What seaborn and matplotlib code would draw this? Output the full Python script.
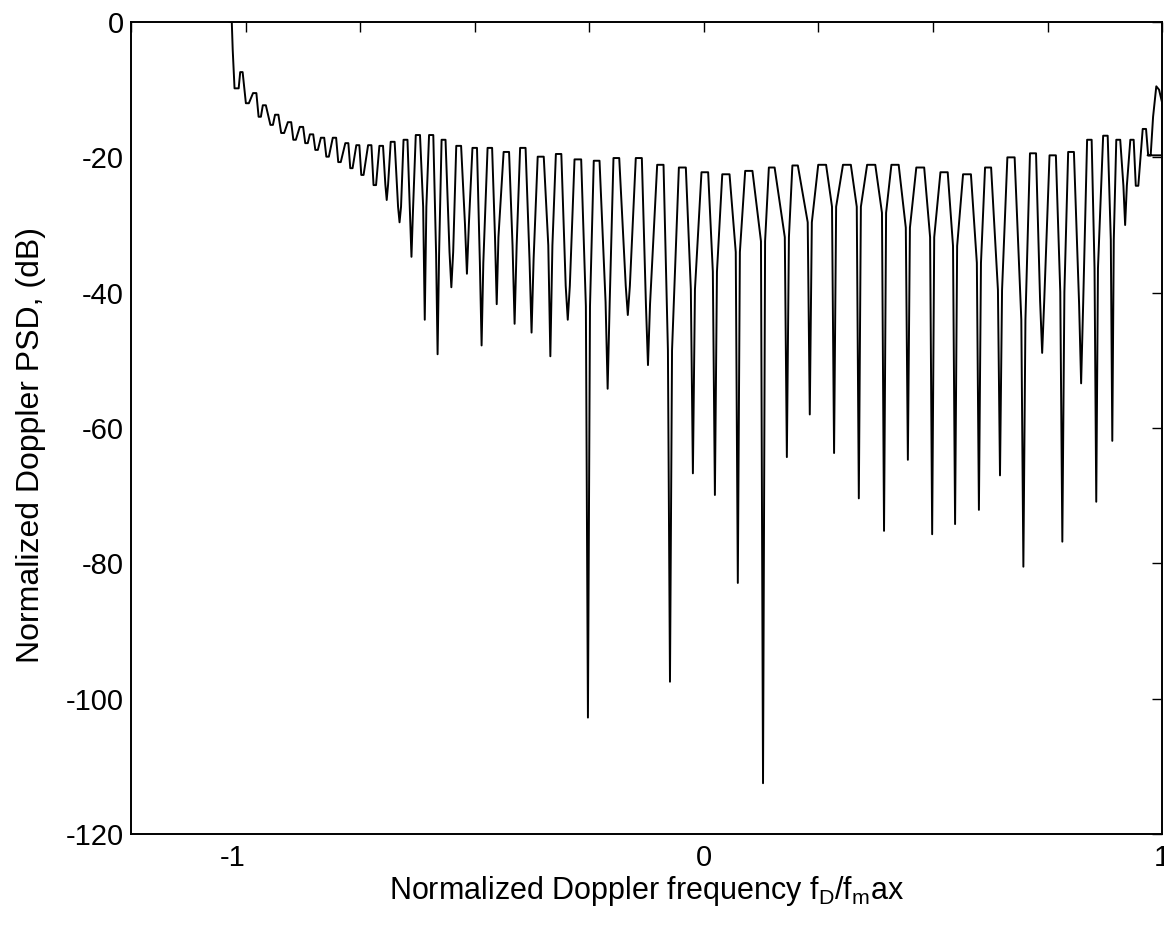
import numpy as np
import pandas as pd
import matplotlib
matplotlib.use("Agg")
import matplotlib.pyplot as plt
import seaborn as sns
from matplotlib.ticker import FixedLocator, FixedFormatter

# start of the curve, at the -1 edge
head_x = [-1.036, -1.030, -1.028, -1.024]
head_db = [0.0, 0.0, -4.1, -9.8]

# local maxima of the PSD (x, dB)
peak_x = [-1.009, -0.980, -0.959, -0.932, -0.904, -0.878, -0.856, -0.832,
          -0.806, -0.779, -0.755, -0.729, -0.704, -0.679, -0.651, -0.624,
          -0.595, -0.568, -0.535, -0.500, -0.467, -0.431, -0.395, -0.356,
          -0.317, -0.275, -0.234, -0.191, -0.142, -0.095, -0.047, 0.002,
          0.048, 0.098, 0.148, 0.199, 0.258, 0.312, 0.365, 0.417,
          0.472, 0.524, 0.574, 0.620, 0.670, 0.718, 0.761, 0.801,
          0.841, 0.876, 0.904, 0.934, 0.961]
peak_db = [-7.4, -10.5, -12.3, -13.7, -14.8, -15.5, -16.6, -17.1,
           -17.1, -17.9, -18.2, -18.2, -18.3, -17.7, -17.4, -16.7,
           -16.7, -17.4, -18.3, -18.6, -18.6, -19.2, -18.6, -19.9,
           -19.5, -20.3, -20.5, -20.1, -20.1, -21.1, -21.5, -22.2,
           -22.5, -22.0, -21.5, -21.2, -21.1, -21.1, -21.1, -21.1,
           -21.5, -22.2, -22.5, -21.5, -20.0, -19.4, -19.7, -19.2,
           -17.4, -16.8, -17.4, -17.4, -15.8]

# local minima: position, level where the narrow notch starts, notch floor
dip_x = [-1.017, -0.996, -0.969, -0.943, -0.919, -0.893, -0.867, -0.845,
         -0.821, -0.795, -0.769, -0.745, -0.718, -0.692, -0.664, -0.638,
         -0.609, -0.581, -0.551, -0.517, -0.485, -0.452, -0.413, -0.376,
         -0.335, -0.297, -0.253, -0.210, -0.166, -0.122, -0.074, -0.024,
         0.024, 0.074, 0.129, 0.181, 0.231, 0.284, 0.338, 0.393,
         0.445, 0.498, 0.548, 0.600, 0.646, 0.697, 0.738, 0.782,
         0.823, 0.856, 0.891, 0.919, 0.945, 0.972]
dip_shoulder_db = [-9.8, -12.0, -14.0, -15.2, -16.4, -17.4, -17.9, -18.9,
                   -19.9, -20.7, -21.6, -22.6, -24.1, -24.0, -27.3, -28.0,
                   -27.3, -34.3, -34.0, -29.9, -35.6, -31.8, -33.0, -35.0,
                   -33.0, -39.0, -42.0, -41.4, -39.0, -41.7, -48.5, -39.5,
                   -36.9, -34.0, -32.4, -31.8, -29.6, -27.3, -27.3, -28.2,
                   -30.4, -31.8, -33.1, -35.6, -39.6, -44.0, -41.2, -39.9,
                   -41.5, -36.4, -32.2, -24.2, -24.2, -19.7]
dip_floor_db = [-9.8, -12.0, -14.0, -15.2, -16.4, -17.4, -17.9, -18.9,
                -19.9, -20.7, -21.6, -22.6, -24.1, -26.3, -29.6, -34.7,
                -44.0, -49.1, -39.2, -37.2, -47.8, -41.7, -44.6, -45.9,
                -49.4, -44.0, -102.8, -54.2, -43.3, -50.7, -97.5, -66.7,
                -69.9, -82.9, -112.5, -64.3, -58.0, -63.7, -70.4, -75.2,
                -64.7, -75.7, -74.2, -72.1, -67.0, -80.5, -48.9, -76.8,
                -53.4, -70.9, -61.9, -30.0, -24.2, -19.7]

# end of the curve at the +1 edge
tail_x = [0.980, 0.987, 0.993, 1.000, 1.000, 0.968]
tail_db = [-14.0, -9.5, -10.0, -12.0, -19.7, -19.7]

xtick_pos = [-1.25, -1.0, -0.75, -0.5, -0.25, 0.0, 0.25, 0.5, 0.75, 1.0]
xtick_lab = ["", "-1", "", "", "", "0", "", "", "", "1"]
ytick_pos = [0, -20, -40, -60, -80, -100, -120]

# build the polyline: flat peak tops, steep sides, narrow notches
px = np.array(peak_x)
dx = np.array(dip_x)
verts = []
for x, y in zip(peak_x, peak_db):
    d = np.min(np.abs(dx - x))
    pw = 0.33 * d
    verts += [(x - pw, y), (x + pw, y)]
for x, s, f in zip(dip_x, dip_shoulder_db, dip_floor_db):
    d = np.min(np.abs(px - x))
    nw = min(0.0045, 0.25 * d)
    verts += [(x - nw, s), (x, f), (x + nw, s)]
verts.sort(key=lambda v: v[0])
xs = head_x + [v[0] for v in verts] + tail_x
ys = head_db + [v[1] for v in verts] + tail_db
df = pd.DataFrame({"f": xs, "psd": ys})

sns.set_theme(style="white")
plt.rcParams["font.family"] = ["Liberation Sans", "DejaVu Sans"]
plt.rcParams["mathtext.default"] = "regular"
plt.rcParams["axes.unicode_minus"] = False

fig = plt.figure(figsize=(11.64, 9.26), dpi=100)
ax = fig.add_axes([0.1125, 0.0994, 0.886, 0.8768])
sns.lineplot(data=df, x="f", y="psd", sort=False, estimator=None,
             color="black", linewidth=1.4, ax=ax)

ax.set_xlim(-1.25, 1.0)
ax.set_ylim(-120, 0)
ax.xaxis.set_major_locator(FixedLocator(xtick_pos))
ax.xaxis.set_major_formatter(FixedFormatter(xtick_lab))
ax.set_yticks(ytick_pos)
ax.set_yticklabels([str(v) for v in ytick_pos])
ax.tick_params(direction="in", length=7, width=1.0, top=True, right=True,
               labelsize=21, colors="black")
ax.tick_params(axis="y", pad=5)
ax.tick_params(axis="x", pad=7)
for sp in ax.spines.values():
    sp.set_color("black")
    sp.set_linewidth(1.4)
# MATLAB puts the "-1" label a bit left of its tick
ax.get_xticklabels()[1].set_horizontalalignment("right")

ax.set_xlabel(r"Normalized Doppler frequency f$_D$/f$_m$ax", fontsize=22,
              color="black", labelpad=2)
ax.set_ylabel("Normalized Doppler PSD, (dB)", fontsize=23, color="black")
ax.yaxis.set_label_coords(-0.082, 0.479)

fig.savefig("out.png", dpi=100, facecolor="white")
